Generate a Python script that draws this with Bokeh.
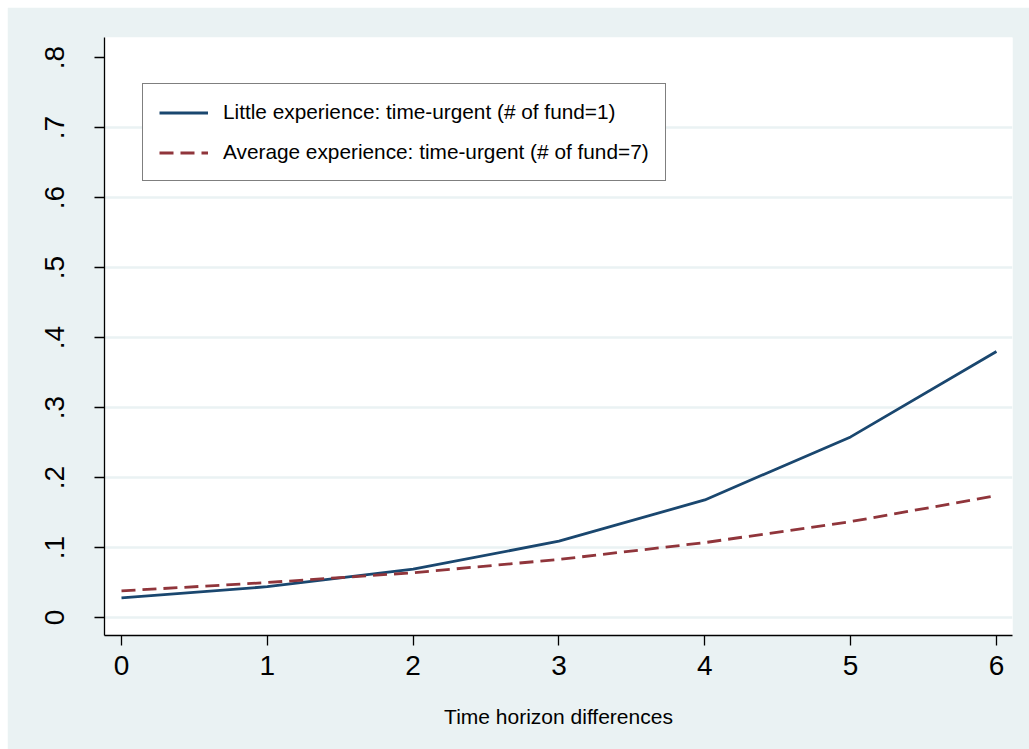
from bokeh.plotting import figure
from bokeh.models import FixedTicker, Range1d, Legend, LegendItem
from bokeh.embed import file_html
from bokeh.resources import INLINE

# Predicted probabilities by time horizon difference
x_vals = [0, 1, 2, 3, 4, 5, 6]
little_exp = [0.028, 0.044, 0.069, 0.109, 0.168, 0.258, 0.380]
average_exp = [0.038, 0.050, 0.064, 0.083, 0.107, 0.137, 0.174]

series_names = [
    "Little experience: time-urgent (# of fund=1)",
    "Average experience: time-urgent (# of fund=7)",
]

y_ticks = [0, 0.1, 0.2, 0.3, 0.4, 0.5, 0.6, 0.7, 0.8]
y_tick_labels = ["0", ".1", ".2", ".3", ".4", ".5", ".6", ".7", ".8"]
x_ticks = [0, 1, 2, 3, 4, 5, 6]
x_title = "Time horizon differences"

FONT = "Liberation Sans"
BG = "#EAF2F3"
BLUE = "#1A476F"
MAROON = "#90353B"

p = figure(
    width=1022, height=742,
    output_backend="svg", toolbar_location=None,
    x_range=Range1d(-0.1166, 6.11), y_range=Range1d(-0.0257, 0.8286),
    min_border_left=97, min_border_right=17,
    min_border_top=30, min_border_bottom=114,
)
p.margin = (7, 0, 0, 7)
p.background_fill_color = "white"
p.border_fill_color = BG
p.outline_line_color = None

r1 = p.line(x_vals, little_exp, line_color=BLUE, line_width=2.8)
r2 = p.line(x_vals, average_exp, line_color=MAROON, line_width=2.8,
            line_dash="14 7")

# axes
for ax in (p.xaxis[0], p.yaxis[0]):
    ax.axis_line_color = "black"
    ax.axis_line_width = 1.3
    ax.major_tick_line_color = "black"
    ax.major_tick_line_width = 1.3
    ax.major_tick_out = 10
    ax.major_tick_in = 0
    ax.minor_tick_line_color = None
    ax.major_label_text_font = FONT
    ax.major_label_text_font_size = "28px"
    ax.major_label_text_color = "black"

p.xaxis.ticker = FixedTicker(ticks=x_ticks)
p.xaxis.major_label_standoff = 10
p.xaxis.axis_label = x_title
p.xaxis.axis_label_text_font = FONT
p.xaxis.axis_label_text_font_style = "normal"
p.xaxis.axis_label_text_font_size = "21px"
p.xaxis.axis_label_text_color = "black"
p.xaxis.axis_label_standoff = 27

p.yaxis.ticker = FixedTicker(ticks=y_ticks)
p.yaxis.major_label_overrides = {t: s for t, s in zip(y_ticks, y_tick_labels)}
p.yaxis.major_label_orientation = "vertical"
p.yaxis.major_label_standoff = 30

# grid
p.xgrid.grid_line_color = None
p.ygrid.ticker = FixedTicker(ticks=y_ticks[:-1])
p.ygrid.grid_line_color = BG
p.ygrid.grid_line_width = 2.5

legend = Legend(
    items=[LegendItem(label=series_names[0], renderers=[r1]),
           LegendItem(label=series_names[1], renderers=[r2])],
    location=(38, 454),
    border_line_color="black", border_line_width=1.3,
    background_fill_color="white", background_fill_alpha=1,
    label_text_font=FONT, label_text_font_size="20.8px",
    label_text_color="black",
    glyph_width=49, glyph_height=21, label_height=21,
    label_standoff=15, spacing=16, padding=16, margin=0,
)
p.add_layout(legend, "center")

open("out.html", "w").write(file_html(p, INLINE))
